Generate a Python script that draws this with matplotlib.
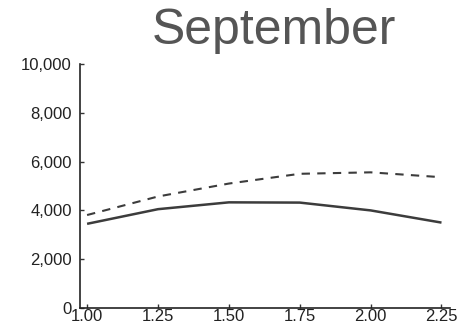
import matplotlib.pyplot as plt
from matplotlib.ticker import FuncFormatter

# data
x_vals = [1.00, 1.25, 1.50, 1.75, 2.00, 2.25]
solid_vals = [3450, 4050, 4330, 4320, 4000, 3500]
dashed_vals = [3810, 4570, 5100, 5500, 5560, 5360]
x_ticks = [1.00, 1.25, 1.50, 1.75, 2.00, 2.25]
y_ticks = [0, 2000, 4000, 6000, 8000, 10000]

plt.rcParams['font.family'] = ['Liberation Sans', 'DejaVu Sans']

fig = plt.figure(figsize=(4.73, 3.35), dpi=100)
ax = fig.add_axes([80 / 473, 1 - 308 / 335, 370 / 473, 244 / 335])

ax.plot(x_vals, solid_vals, color='#3c3c3c', linewidth=1.8, solid_capstyle='butt')
ax.plot(x_vals, dashed_vals, color='#3c3c3c', linewidth=1.5, linestyle=(0, (4, 3.5)))

ax.set_xlim(0.975, 2.28)
ax.set_ylim(0, 10000)
ax.set_xticks(x_ticks)
ax.set_yticks(y_ticks)
ax.xaxis.set_major_formatter(FuncFormatter(lambda v, p: '%.2f' % v))
ax.yaxis.set_major_formatter(FuncFormatter(lambda v, p: '{:,.0f}'.format(v)))

for s in ['top', 'right']:
    ax.spines[s].set_visible(False)
for s in ['left', 'bottom']:
    ax.spines[s].set_color('#222222')
    ax.spines[s].set_linewidth(1.2)

ax.tick_params(axis='both', direction='in', length=3, width=1, color='#333333',
               labelsize=12, labelcolor='#222222')
ax.tick_params(axis='y', pad=6)
ax.tick_params(axis='x', pad=1)

fig.text(274 / 473, 1 - 44 / 335, 'September', fontsize=36, color='#555555',
         ha='center', va='baseline')

fig.savefig('out.png', dpi=100)
